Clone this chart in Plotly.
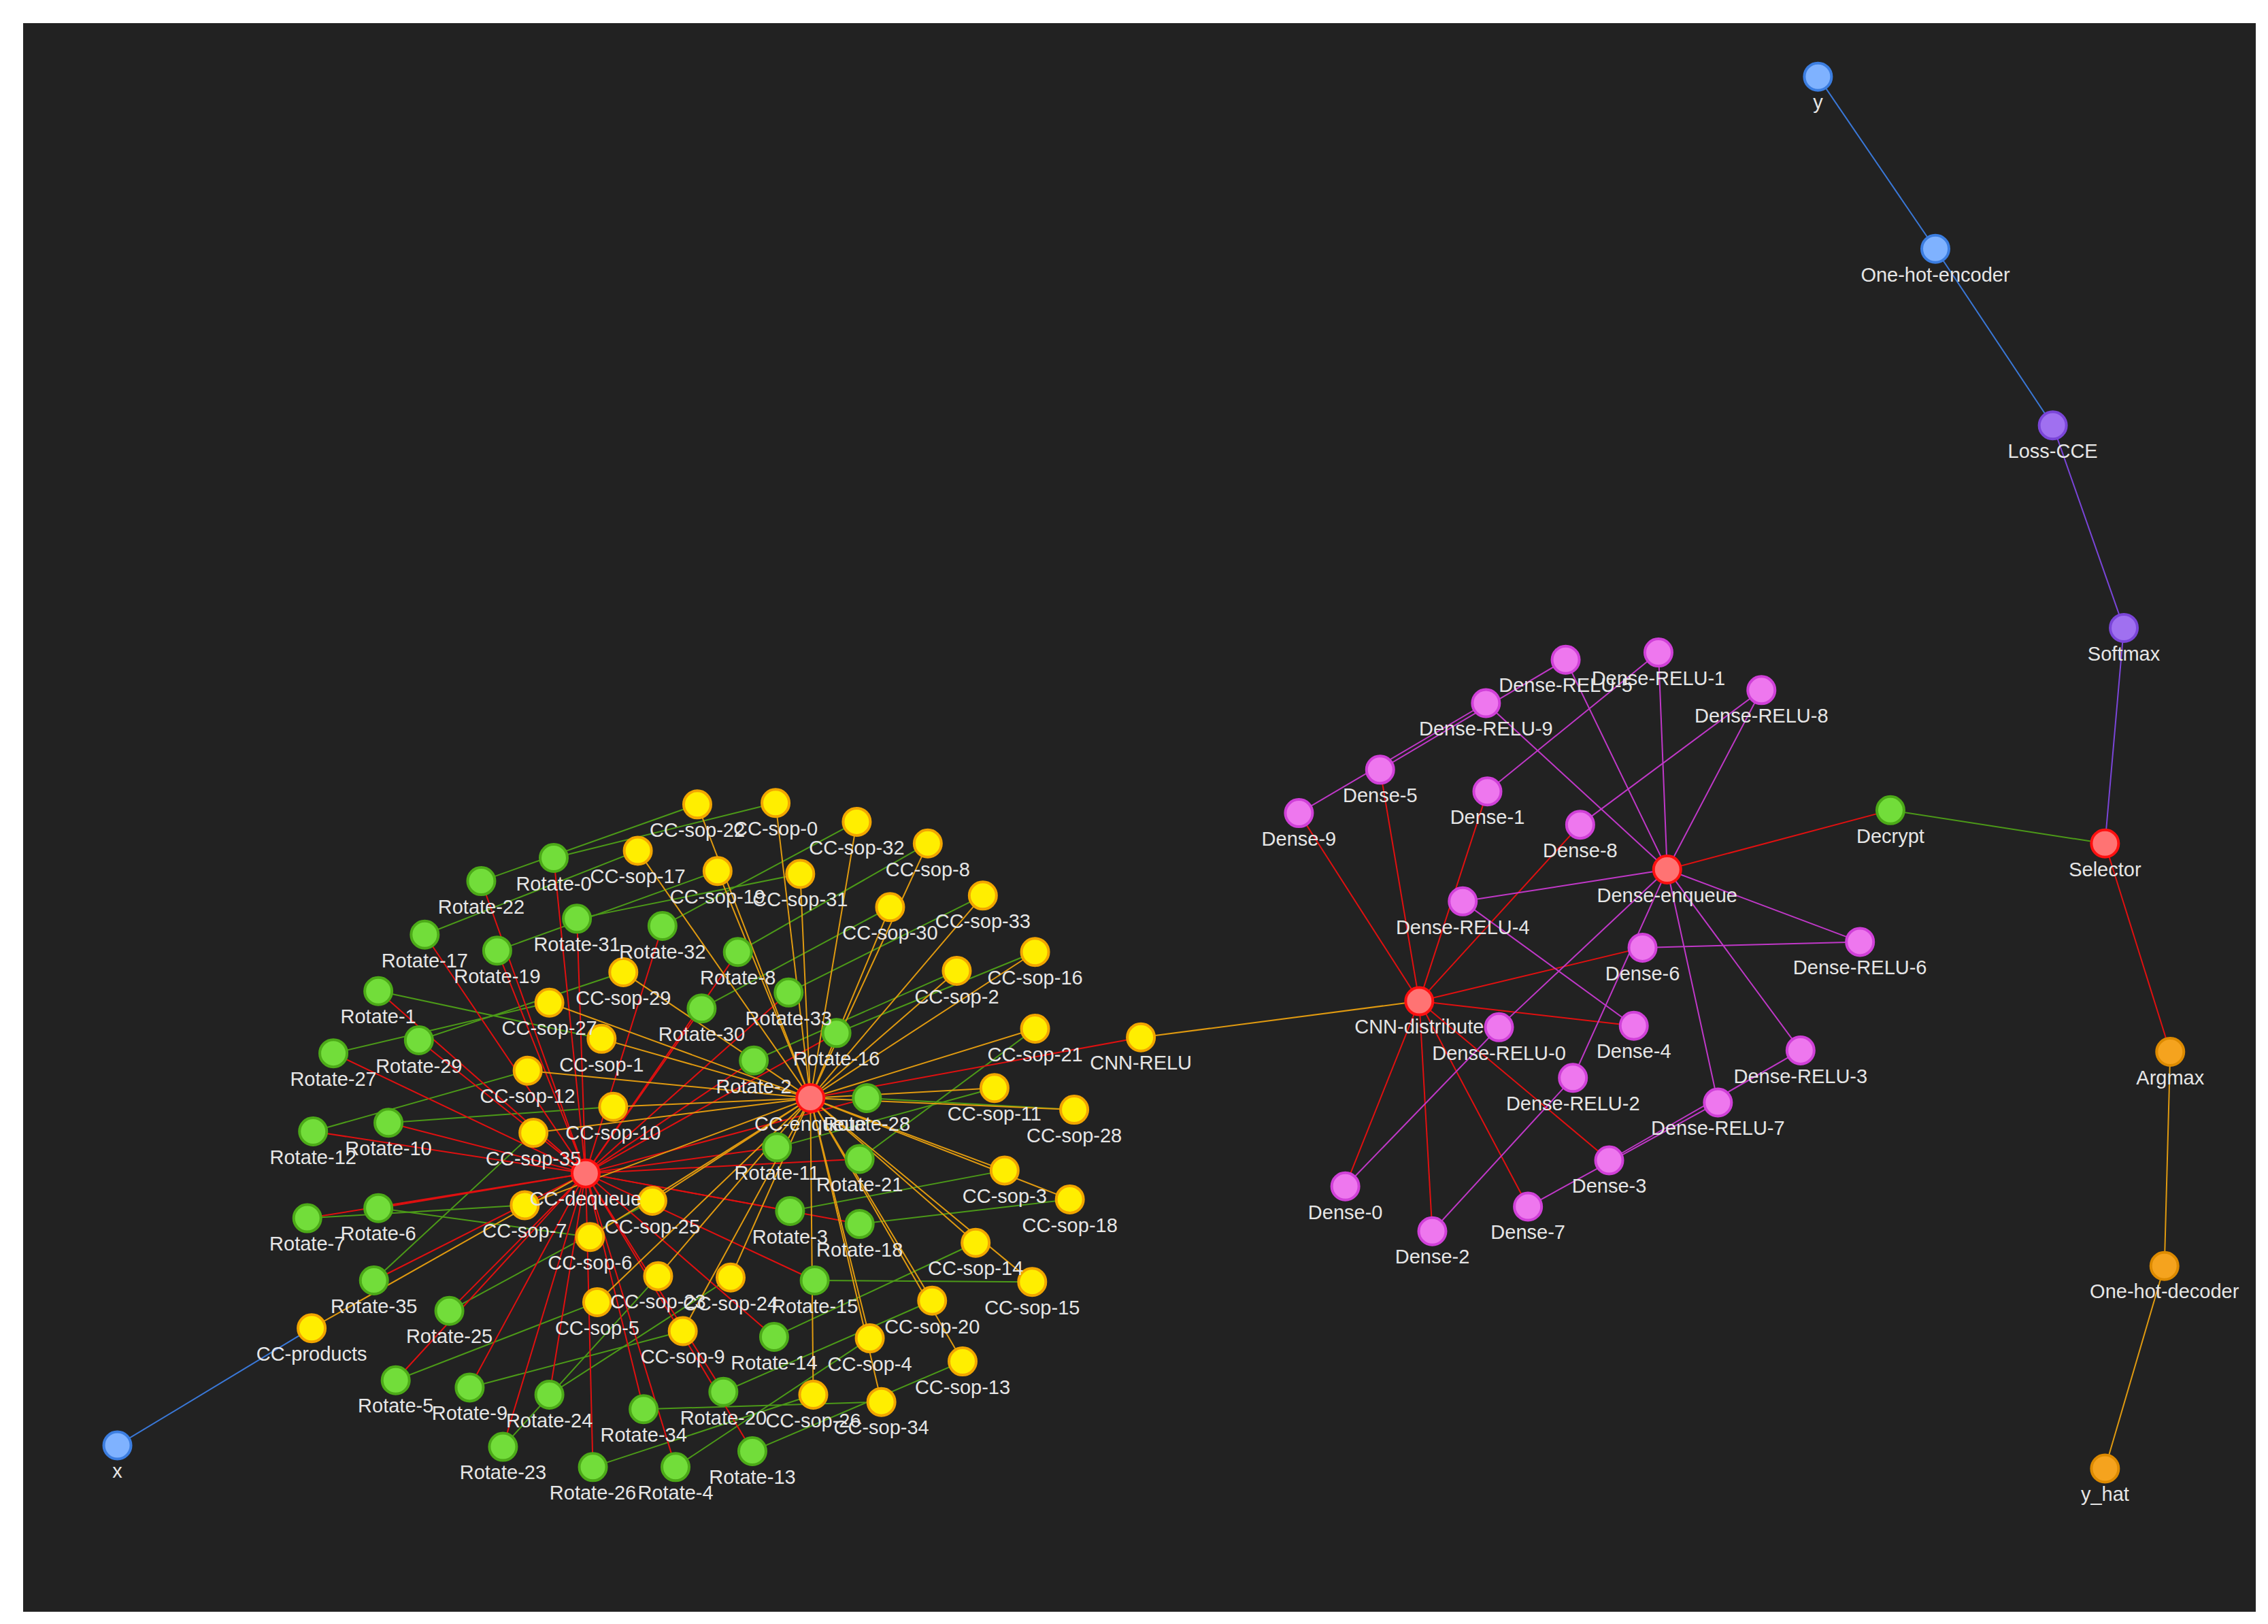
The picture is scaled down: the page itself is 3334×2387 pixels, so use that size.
import plotly.graph_objects as go

# node name, x, y (layout positions), group
node_names = ["y","One-hot-encoder","Loss-CCE","Softmax","Selector","Decrypt","Argmax","One-hot-decoder","y_hat",
 "x","CC-products","CC-dequeue","CC-enqueue","CNN-RELU","CNN-distribute","Dense-enqueue"]
node_x = [1250,1331,1412,1461,1448,1300,1493,1489,1448,77,211,400,555,783,975,1146]
node_y = [49,168,290,430,579,556,723,871,1011,995,914,807,755,713,688,597]
node_grp = ["blue","blue","purple","purple","red","green","orange","orange","orange","blue","yellow","red","red","yellow","red","red"]

dense_ids = [9,5,1,8,6,4,0,2,7,3]
dense_x = [892,948,1022,1086,1129,1123,924,984,1050,1106]
dense_y = [558,528,543,566,651,705,816,847,830,798]
relu_ids = [5,1,9,8,4,6,0,2,3,7]
relu_x = [1076,1140,1021,1211,1005,1279,1030,1081,1238,1181]
relu_y = [452,447,482,473,619,647,706,741,722,758]

rot_ids = [0,22,17,19,31,32,8,33,30,16,2,1,29,27,10,12,28,11,21,6,7,3,18,35,25,15,14,5,9,24,34,20,23,26,4,13]
rot_x = [378,328,289,339,394,453,505,540,480,573,516,257,285,226,264,212,594,532,589,257,208,541,589,254,306,558,530,269,320,375,440,495,343,405,462,515]
rot_y = [589,605,642,653,631,636,654,682,693,710,729,681,715,724,772,778,755,789,797,831,838,833,842,881,902,881,920,950,955,960,970,958,996,1010,1010,999]
sop_ids = [22,0,32,8,17,19,31,30,33,29,27,1,2,16,12,10,21,11,28,35,7,25,3,18,6,14,23,24,15,5,20,9,4,13,26,34]
sop_x = [477,531,587,636,436,491,548,610,674,426,375,411,656,710,360,419,710,682,737,364,358,446,689,734,403,669,450,500,708,408,639,467,596,660,557,604]
sop_y = [552,551,564,579,584,598,600,623,615,668,689,714,667,654,736,761,707,748,763,779,829,826,805,825,851,855,878,879,882,896,895,916,921,937,960,965]

pos = {}; grp = {}
for n, x, y, g in zip(node_names, node_x, node_y, node_grp):
    pos[n] = (x, y); grp[n] = g
for i, x, y in zip(dense_ids, dense_x, dense_y):
    pos[f"Dense-{i}"] = (x, y); grp[f"Dense-{i}"] = "magenta"
for i, x, y in zip(relu_ids, relu_x, relu_y):
    pos[f"Dense-RELU-{i}"] = (x, y); grp[f"Dense-RELU-{i}"] = "magenta"
for i, x, y in zip(rot_ids, rot_x, rot_y):
    pos[f"Rotate-{i}"] = (x, y); grp[f"Rotate-{i}"] = "green"
for i, x, y in zip(sop_ids, sop_x, sop_y):
    pos[f"CC-sop-{i}"] = (x, y); grp[f"CC-sop-{i}"] = "yellow"

edges = [("y","One-hot-encoder"),("One-hot-encoder","Loss-CCE"),("Loss-CCE","Softmax"),("Softmax","Selector"),
         ("Decrypt","Selector"),("Selector","Argmax"),("Argmax","One-hot-decoder"),("One-hot-decoder","y_hat"),
         ("x","CC-products"),("CC-products","CC-dequeue"),("CC-enqueue","CNN-RELU"),("CNN-RELU","CNN-distribute"),
         ("Dense-enqueue","Decrypt")]
for i in range(36):
    edges += [("CC-dequeue", f"Rotate-{i}"), (f"Rotate-{i}", f"CC-sop-{i}"), (f"CC-sop-{i}", "CC-enqueue")]
for i in range(10):
    edges += [("CNN-distribute", f"Dense-{i}"), (f"Dense-{i}", f"Dense-RELU-{i}"), (f"Dense-RELU-{i}", "Dense-enqueue")]

fill = {"blue":"#7fb2ff","purple":"#a070f0","red":"#ff7373","green":"#72dd3a","orange":"#f5a31e","yellow":"#ffee00","magenta":"#ee77ee"}
border = {"blue":"#3b7de0","purple":"#7a45d8","red":"#ff1010","green":"#4caa18","orange":"#dd8a00","yellow":"#f2a500","magenta":"#d040d8"}
ecol = {"blue":"#3a78d8","purple":"#7a45d8","red":"#e01010","green":"#4c9a18","orange":"#e09a10","yellow":"#e09a10","magenta":"#c038c8"}

fig = go.Figure()
bycol = {}
for a, b in edges:
    c = ecol[grp[a]]
    xs, ys = bycol.setdefault(c, ([], []))
    xs += [pos[a][0], pos[b][0], None]; ys += [-pos[a][1], -pos[b][1], None]
for c, (xs, ys) in bycol.items():
    fig.add_trace(go.Scatter(x=xs, y=ys, mode="lines", line=dict(color=c, width=2), hoverinfo="skip", showlegend=False))

names = list(pos)
fig.add_trace(go.Scatter(
    x=[pos[n][0] for n in names], y=[-pos[n][1] for n in names], mode="markers+text",
    text=names, textposition="bottom center",
    textfont=dict(color="#e6e6e6", size=29, family="Liberation Sans, Arial"),
    marker=dict(size=40, color=[fill[grp[n]] for n in names],
                line=dict(color=[border[grp[n]] for n in names], width=4)),
    showlegend=False))

fig.update_layout(width=3334, height=2387, paper_bgcolor="white", plot_bgcolor="#222222",
                  margin=dict(l=26, r=26, t=26, b=26),
                  xaxis=dict(range=[12, 1552], visible=False),
                  yaxis=dict(range=[-1110, -12], visible=False))
fig.write_html("out.html")
